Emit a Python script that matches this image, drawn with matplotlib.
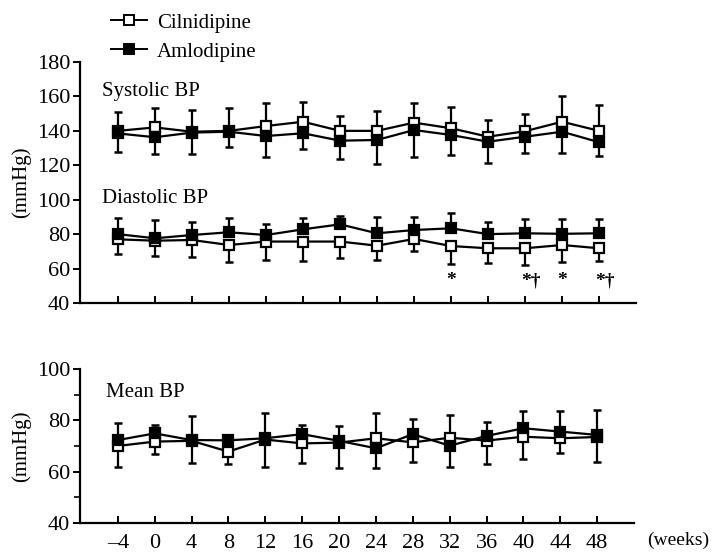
import numpy as np
import matplotlib.pyplot as plt
from matplotlib.lines import Line2D

weeks = [-4, 0, 4, 8, 12, 16, 20, 24, 28, 32, 36, 40, 44, 48]
week_labels = ["\u20134", "0", "4", "8", "12", "16", "20", "24", "28", "32", "36", "40", "44", "48"]

# systolic
sys_cil = [140, 142, 139.5, 140, 142.8, 145.3, 140, 140, 144.8, 141.5, 136.6, 139.8, 145.3, 140]
sys_aml = [138.5, 136.3, 139, 139.5, 137, 138.6, 134.3, 134.7, 140.5, 137.6, 133.7, 136.6, 139.5, 133.4]
sys_cil_sd = [11, 11, 12.6, 13, 13.2, 11.7, 8.8, 11.5, 11.2, 12.5, 9.7, 10, 15, 15]
sys_aml_sd = [10.6, 10, 12.6, 8.7, 12, 9, 10.8, 14, 15.5, 11.6, 12.5, 9.6, 12.5, 8]

# diastolic
dia_cil = [77, 76.2, 76.6, 73.7, 75.7, 75.7, 75.7, 73.3, 77.2, 73.1, 71.8, 71.8, 73.7, 71.8]
dia_aml = [80, 77.6, 79.5, 81.1, 79.5, 82.8, 85.7, 80.5, 82.4, 83.4, 80, 80.5, 80.2, 80.5]
dia_cil_sd = [8.5, 9, 9.6, 9.7, 10.7, 11.3, 9.7, 8.3, 7, 10.6, 8.8, 9.7, 10, 7.4]
dia_aml_sd = [9.2, 10.6, 7.8, 8.1, 6.2, 6.4, 5, 9.7, 7.8, 8.7, 7.3, 8.2, 8.5, 8.2]

# mean
mean_cil = [70, 71.7, 72, 67.8, 72.5, 71, 71.3, 73, 71.4, 73.2, 72.1, 73.6, 73, 73.5]
mean_aml = [72.3, 74.9, 72.3, 72.2, 73, 74.6, 72, 69.1, 74.6, 70.1, 73.9, 76.9, 75.6, 74.3]
mean_cil_sd = [8, 4.9, 8.6, 4.8, 10.5, 7.7, 10, 9.7, 7.7, 8.9, 9.2, 8.8, 5.8, 9.6]
mean_aml_sd = [6.8, 3.3, 9.4, 1.5, 10, 3.6, 5.8, 7.8, 5.9, 8.4, 5.6, 6.9, 7.9, 9.7]

sig_weeks = [32, 40, 44, 48]
sig_marks = ["*", "*\u2020", "*", "*\u2020"]

plt.rcParams["font.family"] = "Liberation Serif"
fs = 15


def draw_pair(ax, cil, aml, cil_sd, aml_sd):
    cil = np.array(cil)
    aml = np.array(aml)
    cil_sd = np.array(cil_sd)
    aml_sd = np.array(aml_sd)
    c_up = cil > aml
    # error bars go away from the other group
    c_err = [np.where(c_up, 0, cil_sd), np.where(c_up, cil_sd, 0)]
    a_err = [np.where(c_up, aml_sd, 0), np.where(c_up, 0, aml_sd)]
    ax.errorbar(weeks, cil, yerr=c_err, fmt="none", ecolor="black",
                elinewidth=1.6, capsize=3, capthick=1.8, zorder=2)
    ax.errorbar(weeks, aml, yerr=a_err, fmt="none", ecolor="black",
                elinewidth=1.6, capsize=3, capthick=1.8, zorder=2)
    ax.plot(weeks, cil, color="black", lw=1.6, marker="s", ms=7.5,
            mfc="white", mec="black", mew=1.6, zorder=3)
    ax.plot(weeks, aml, color="black", lw=1.6, marker="s", ms=7.5,
            mfc="black", mec="black", mew=1.6, zorder=4)


def style_axes(ax):
    ax.spines["top"].set_visible(False)
    ax.spines["right"].set_visible(False)
    ax.spines["left"].set_linewidth(1.6)
    ax.spines["bottom"].set_linewidth(1.6)
    ax.set_xlim(-8.1, 52)
    ax.set_xticks(weeks)
    ax.tick_params(axis="x", direction="in", length=5, width=1.4)
    ax.tick_params(axis="y", direction="out", length=5, width=1.4, labelsize=fs + 1, pad=2)
    ax.tick_params(axis="y", which="minor", direction="out", length=4, width=1.2)


fig = plt.figure(figsize=(7.13, 5.56), dpi=100)
ax1 = fig.add_axes([0.1122, 0.455, 0.78, 0.4335])
ax2 = fig.add_axes([0.1122, 0.0594, 0.777, 0.277])

draw_pair(ax1, sys_cil, sys_aml, sys_cil_sd, sys_aml_sd)
draw_pair(ax1, dia_cil, dia_aml, dia_cil_sd, dia_aml_sd)
style_axes(ax1)
ax1.set_ylim(40, 180)
ax1.set_yticks(range(40, 181, 20))
ax1.set_xticklabels([])
ax1.set_ylabel("(mmHg)", fontsize=fs, labelpad=4)
ax1.text(-5.7, 163, "Systolic BP", fontsize=fs, va="center")
ax1.text(-5.7, 100.5, "Diastolic BP", fontsize=fs, va="center")
for w, m in zip(sig_weeks, sig_marks):
    ax1.text(w + (0.6 if len(m) > 1 else 0), 53, m, fontsize=14,
             ha="center", va="center", fontweight="bold")

draw_pair(ax2, mean_cil, mean_aml, mean_cil_sd, mean_aml_sd)
style_axes(ax2)
ax2.set_ylim(40, 100)
ax2.set_yticks(range(40, 101, 20))
ax2.set_yticks(range(50, 100, 20), minor=True)
ax2.set_xticklabels(week_labels, fontsize=fs + 1)
ax2.tick_params(axis="x", pad=8)
ax2.set_ylabel("(mmHg)", fontsize=fs, labelpad=4)
ax2.text(-5.3, 91, "Mean BP", fontsize=fs, va="center")
fig.text(0.995, 0.029, "(weeks)", fontsize=14, ha="right", va="center")

handles = [
    Line2D([], [], color="black", lw=1.4, marker="s", ms=7, mfc="white", mec="black", mew=1.4),
    Line2D([], [], color="black", lw=1.4, marker="s", ms=7, mfc="black", mec="black", mew=1.4),
]
fig.legend(handles, ["Cilnidipine", "Amlodipine"], loc="upper left",
           bbox_to_anchor=(0.13, 1.01), frameon=False, fontsize=fs,
           handlelength=1.7, handletextpad=0.5, labelspacing=0.45)

fig.savefig("out.png", dpi=100)
